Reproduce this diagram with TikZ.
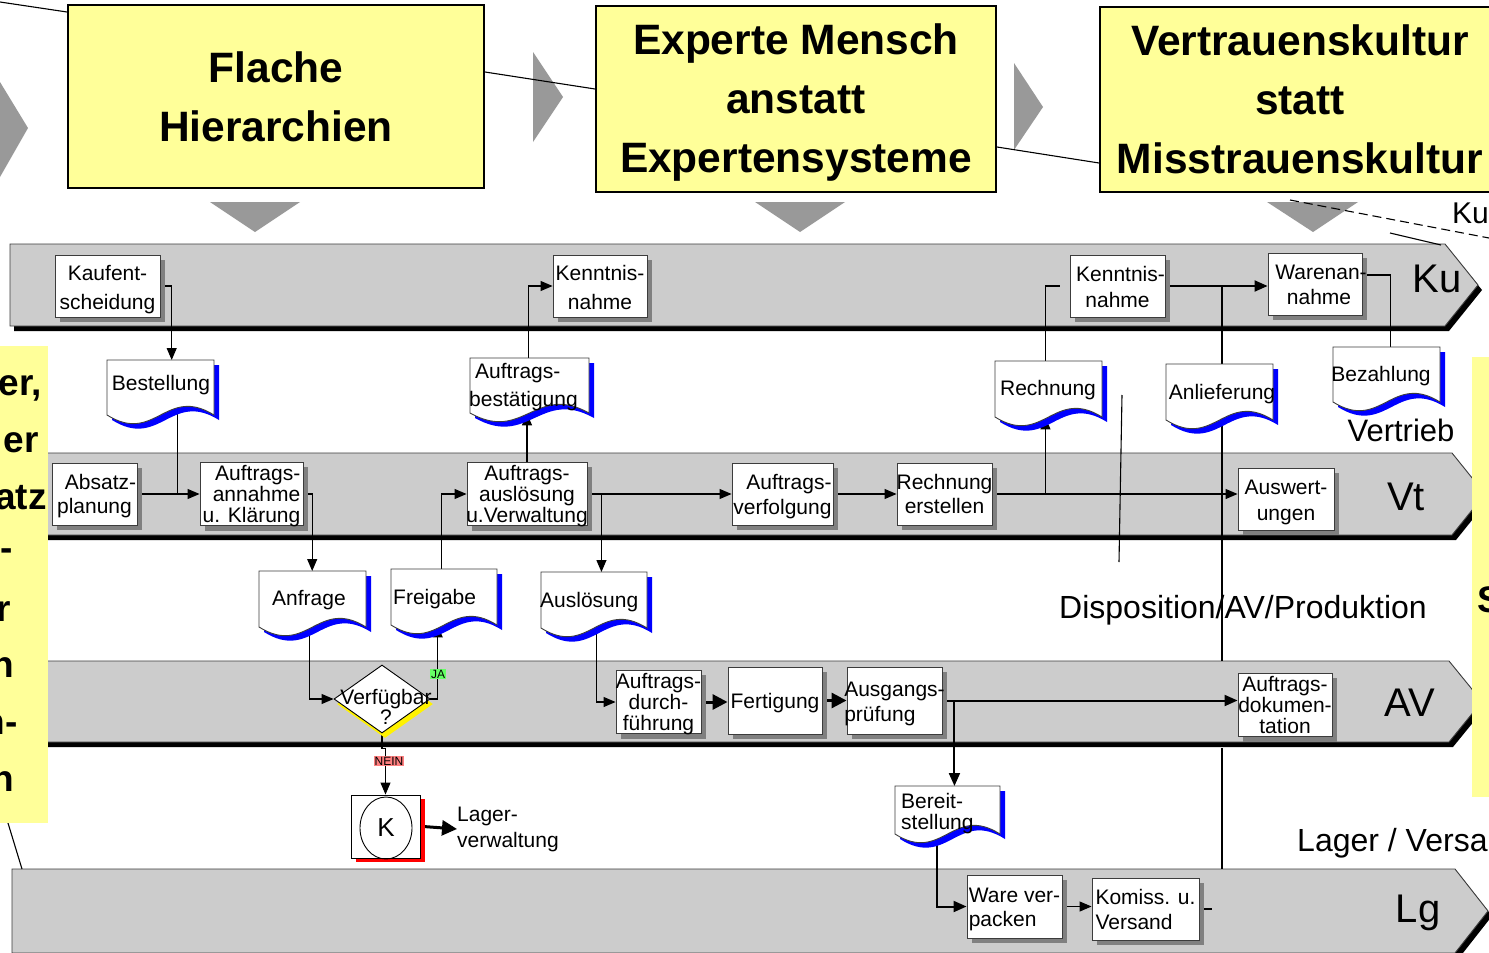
\documentclass[tikz,border=0pt]{standalone}
\usepackage{fontspec}
\setmainfont{Liberation Sans}
\usetikzlibrary{arrows.meta,shapes.geometric,shadows,calc}
\pgfdeclarelayer{lanes}
\pgfdeclarelayer{conn}
\pgfsetlayers{lanes,conn,main}

\definecolor{boxyellow}{RGB}{255,255,153}
\definecolor{lanegray}{RGB}{204,204,204}
\definecolor{chevgray}{RGB}{153,153,153}
\definecolor{shadegray}{RGB}{128,128,128}
\definecolor{docblue}{RGB}{0,0,255}
\definecolor{jagreen}{RGB}{102,255,102}
\definecolor{neinred}{RGB}{255,128,128}
\definecolor{edgegray}{RGB}{60,60,60}
\definecolor{kred}{RGB}{255,0,0}

\newcommand\fs[2]{\fontsize{#1}{#2}\selectfont}
% centred multi-line label that does not widen its box (set a little low)
\newcommand\ztab[4]{\makebox[0pt]{\raisebox{-3pt}[\height][\depth]{\fs{#2}{#3}\begin{tabular}{@{}#1@{}}#4\end{tabular}}}}

% swim lane with black drop shadow: left, top, right, bottom, tip x
\newcommand\lane[5]{%
  \fill[black] ({#1+4},{#2+5}) -- ({#3+4},{#2+5}) -- ({#5+4},{(#2+#4)/2+5})
     -- ({#3+4},{#4+5}) -- ({#1+4},{#4+5}) -- cycle;
  \filldraw[fill=lanegray, draw=edgegray, line width=0.9pt] (#1,#2) -- (#3,#2)
     -- (#5,{(#2+#4)/2}) -- (#3,#4) -- (#1,#4) -- cycle;}

% document symbol with wavy lower edge and blue shadow: name, left, top, width, height
\newcommand\docshape[5]{%
  \fill[docblue] ({#2+5},{#3+5}) -- ({#2+#4+5},{#3+5}) -- ({#2+#4+5},{#3+#5+5})
     .. controls ({#2+0.55*#4+5},{#3+#5-25}) and ({#2+0.45*#4+5},{#3+#5+35}) .. ({#2+5},{#3+#5+5}) -- cycle;
  \filldraw[fill=white, draw=edgegray, line width=0.9pt] (#2,#3) -- ({#2+#4},#3) -- ({#2+#4},{#3+#5})
     .. controls ({#2+0.55*#4},{#3+#5-30}) and ({#2+0.45*#4},{#3+#5+30}) .. (#2,{#3+#5}) -- cycle;
  \node[inner sep=0pt, minimum width=#4pt, minimum height=#5pt, anchor=north west] (#1) at (#2,#3) {};}

\begin{document}
\begin{tikzpicture}[x=1pt,y=-1pt,
  topbox/.style={draw=black, line width=2pt, fill=boxyellow, align=center,
    font=\bfseries\fs{42.5}{59}},
  proc/.style={draw=edgegray, line width=0.9pt, fill=white, inner sep=0pt,
    general shadow={fill=shadegray, shadow xshift=5pt, shadow yshift=-5pt}},
  doctext/.style={inner sep=0pt, font=\fs{21}{28}, align=center},
  lanelabel/.style={inner sep=0pt, font=\fs{40}{40}},
  arealabel/.style={inner sep=0pt, font=\fs{32}{32}},
  sidetext/.style={inner sep=0pt, anchor=east, font=\bfseries\fs{37}{37}},
  conn/.style={draw=black, line width=1.1pt},
  flow/.style={conn, -{Triangle[length=12pt,width=10pt]}},
  heavy/.style={draw=black, line width=2pt},
  heavyflow/.style={heavy, -{Triangle[length=13pt,width=11pt]}},
  bigflow/.style={draw=black, line width=3pt, -{Triangle[length=15pt,width=15pt]}},
  tag/.style={inner sep=1pt, font=\fs{12}{12}}
]
\useasboundingbox (0,0) rectangle (1489,953);

% ---------- background: lanes, chevrons ----------
\begin{pgfonlayer}{lanes}
  \fill[white] (0,0) rectangle (1489,953);
  \lane{10}{244}{1445}{326}{1478}
  \lane{-10}{453}{1452}{535}{1485}
  \lane{-10}{661}{1449}{742}{1482}
  \lane{12}{869}{1455}{953}{1488}
  % gray chevrons between the principles
  \fill[chevgray] (0,82) -- (28,128) -- (0,177) -- cycle;
  \fill[chevgray] (533,52) -- (563,97) -- (533,142) -- cycle;
  \fill[chevgray] (1014,63) -- (1043,107) -- (1014,150) -- cycle;
  % downward pointers
  \fill[chevgray] (210,202) -- (300,202) -- (255,232) -- cycle;
  \fill[chevgray] (755,202) -- (845,202) -- (800,232) -- cycle;
  \fill[chevgray] (1267,202) -- (1358,202) -- (1313,232) -- cycle;
\end{pgfonlayer}

% ---------- principles ----------
\node[topbox, minimum width=416pt, minimum height=183pt] (b1) at (276,96.5) {Flache\\Hierarchien};
\node[topbox, minimum width=400pt, minimum height=186pt] (b2) at (796,99) {\rule{0pt}{37pt}Experte Mensch\\anstatt\\Expertensysteme};
\node[topbox, minimum width=400pt, minimum height=185pt] (b3) at (1300,99.5) {Vertrauenskultur\\statt\\Misstrauenskultur};

% ---------- side panels ----------
\fill[boxyellow] (-10,346) rectangle (48,823);
\fill[boxyellow] (1472,357) rectangle (1500,797);
\node[sidetext] (s1) at (42,388) {er,};
\node[sidetext] (s2) at (39,443) {er};
\node[sidetext] (s3) at (47,498) {atz};
\node[sidetext] (s4) at (13,555) {-};
\node[sidetext] (s5) at (11,612) {r};
\node[sidetext] (s6) at (14,668) {n};
\node[sidetext] (s7) at (18,725) {n-};
\node[sidetext] (s8) at (14,782) {n};
\node[inner sep=0pt, anchor=west, font=\bfseries\fs{37}{37}] (s9) at (1477,600) {S};

% ---------- lane and area labels ----------
\node[lanelabel] (lku) at (1437,279) {Ku};
\node[lanelabel] (lvt) at (1406,497) {Vt};
\node[lanelabel] (lav) at (1410,703) {AV};
\node[lanelabel] (llg) at (1418,913) {Lg};
\node[arealabel, font=\fs{31}{31}] (avt) at (1401,430) {Vertrieb};
\node[arealabel] (adisp) at (1243,610) {Disposition/AV/Produktion};
\node[arealabel, anchor=west] (alag) at (1297,843) {Lager / Versa};
\node[arealabel, font=\fs{30}{30}, anchor=west] (aku) at (1452,213) {Ku};

% ---------- process steps ----------
\node[proc, minimum width=105pt, minimum height=62pt] (kauf) at (107.5,286) {\ztab{c}{21}{29}{Kaufent-\\scheidung}};
\node[proc, minimum width=94pt, minimum height=62pt] (kenn1) at (600,286) {\ztab{c}{21}{29}{Kenntnis-\\nahme}};
\node[proc, minimum width=95pt, minimum height=62pt] (kenn2) at (1117.5,286) {\ztab{c}{21}{26}{\hspace*{6pt}Kenntnis-\\nahme}};
\node[proc, minimum width=94pt, minimum height=62pt] (waren) at (1315,284) {\ztab{c}{21}{25}{\hspace*{12pt}Warenan-\\\hspace*{8pt}nahme}};

\node[proc, minimum width=85pt, minimum height=62pt] (absatz) at (94.5,494) {\ztab{c}{21}{24}{\hspace*{12pt}Absatz-\\planung}};
\node[proc, minimum width=103pt, minimum height=62pt] (annahme) at (251.5,494) {\ztab{r}{21}{20}{Auftrags-\\annahme\\u. Klärung}};
\node[proc, minimum width=120pt, minimum height=62pt] (ausl) at (527,494) {\ztab{c}{21}{20}{Auftrags-\\auslösung\\u.Verwaltung}};
\node[proc, minimum width=101pt, minimum height=62pt] (verf) at (782.5,494) {\ztab{r}{21}{25}{Auftrags-\\verfolgung}};
\node[proc, minimum width=95pt, minimum height=62pt] (rerst) at (944.5,494) {\ztab{c}{21}{24}{Rechnung\\erstellen}};
\node[proc, minimum width=96pt, minimum height=62pt] (ausw) at (1286,499) {\ztab{c}{21}{26}{Auswert-\\ungen}};

\node[proc, minimum width=85pt, minimum height=62pt] (durch) at (658.5,702) {\ztab{c}{21}{20}{Auftrags-\\durch-\\führung}};
\node[proc, minimum width=94pt, minimum height=67pt] (fert) at (775,700.5) {\ztab{c}{21}{25}{Fertigung}};
\node[proc, minimum width=95pt, minimum height=67pt] (ausg) at (894.5,700.5) {\ztab{l}{21}{25}{Ausgangs-\\prüfung}};
\node[proc, minimum width=94pt, minimum height=62pt] (doku) at (1285,705) {\ztab{c}{21}{20}{Auftrags-\\dokumen-\\tation}};

\node[proc, minimum width=95pt, minimum height=63pt] (ware) at (1014.5,906.5) {\ztab{l}{21}{24}{Ware ver-\\packen}};
\node[proc, minimum width=107pt, minimum height=62pt] (komiss) at (1145.5,909) {\ztab{l}{21}{25}{Komiss. u.\\Versand}};

% decision and connector
\node[diamond, draw=black, line width=0.9pt, fill=white, inner sep=0pt,
  minimum width=96pt, minimum height=68pt,
  general shadow={fill=yellow, shadow xshift=3pt, shadow yshift=-5pt}] (vdia) at (382,699) {};
\node[doctext, font=\fs{21}{19}] (vdia-t) at (386,707) {Verfügbar\\?};
\node[draw=black, line width=0.9pt, fill=white, inner sep=0pt, minimum width=69pt, minimum height=63pt,
  general shadow={fill=kred, shadow xshift=5pt, shadow yshift=-4pt}] (kbox) at (385.5,826.5) {};
\node[draw=black, line width=0.9pt, ellipse, inner sep=0pt, minimum width=52pt, minimum height=62pt,
  font=\fs{26}{26}] (kcirc) at (386,828) {K};
\node[doctext, font=\fs{21}{26}, align=left, anchor=west] (lagerv) at (457,829) {Lager-\\verwaltung};

% ---------- documents ----------
\docshape{best}{107}{360}{107}{55}
\docshape{bestae}{470}{358}{119}{55}
\docshape{rechdoc}{995}{361}{107}{56}
\docshape{anlief}{1166}{364}{107}{56}
\docshape{bezahl}{1333}{347}{107}{55}
\docshape{anfrage}{259}{571}{107}{56}
\docshape{freigabe}{391}{569}{106}{56}
\docshape{auslo}{541}{572}{106}{56}
\docshape{bereit}{895}{786}{105}{48}

\node[doctext] (best-t) at (161,385) {Bestellung};
\node[doctext, align=left, anchor=west] (bestae-t) at (469,387) {\hspace*{6pt}Auftrags-\\bestätigung};
\node[doctext] (rechdoc-t) at (1048,390) {Rechnung};
\node[doctext] (anlief-t) at (1222,394) {Anlieferung};
\node[doctext] (bezahl-t) at (1381,376) {Bezahlung};
\node[doctext] (anfrage-t) at (309,600) {Anfrage};
\node[doctext, anchor=west] (freigabe-t) at (393,599) {Freigabe};
\node[doctext, anchor=west] (auslo-t) at (540,602) {Auslösung};
\node[doctext, font=\fs{21}{21}, align=left, anchor=west] (bereit-t) at (901,814) {Bereit-\\stellung};

% ---------- free ends ----------
\coordinate (tl) at (0,2);
\coordinate (ds1) at (1290,200);
\coordinate (ds2) at (1489,238);
\coordinate (sl1) at (1390,233);
\coordinate (sl2) at (1441,245);
\coordinate (d1) at (1122,395);
\coordinate (d2) at (1119,562);
\coordinate (yb1) at (8,823);
\coordinate (yb2) at (22,869);
\coordinate (avtop) at (0,661);
\coordinate (avbot) at (0,748);
\coordinate (lgtop) at (0,869);

% ---------- connectors ----------
\begin{pgfonlayer}{conn}
  % lines between the principles
  \draw[conn] (tl) -- ([yshift=-8pt]b1.north west);
  \draw[conn] ([yshift=24.5pt]b1.east) -- ([yshift=10pt]b2.west);
  \draw[conn] ([yshift=-48pt]b2.east) -- ([yshift=-63.5pt]b3.west);
  \draw[conn, dash pattern=on 9pt off 5pt] (ds1) -- (ds2);
  \draw[conn] (sl1) -- (sl2);
  \draw[conn] (yb1) -- (yb2);
  \draw[conn] (d1) -- (d2);

  % customer / sales
  \draw[flow] (kauf.east) -| ([xshift=11pt]best.north);
  \draw[flow] (absatz.east) -- (annahme.west);
  \draw[conn] ([xshift=16.5pt]best.center) |- ([xshift=-20pt]annahme.west);
  \draw[flow] (annahme.east) -| ([xshift=-0.5pt]anfrage.north);
  \draw[flow] ([xshift=-3.5pt]anfrage.center) |- (vdia.west);
  \draw[flow] (vdia.east) -| ([xshift=-6.5pt]freigabe.south);
  \draw[flow] (vdia.south) -- ++(0,15) -| (kbox.north);
  \draw[flow] ([xshift=-3pt]freigabe.center) |- (ausl.west);
  \draw[flow] (ausl.north) -- (ausl.north |- bestae.south);
  \draw[flow] ([xshift=-1.5pt]bestae.center) |- (kenn1.west);
  \draw[flow] (ausl.east) -- (verf.west);
  \draw[flow] ([xshift=14pt]ausl.east) -- ([xshift=14pt]ausl.east |- auslo.north);
  \draw[flow] ([xshift=2pt]auslo.center) |- (durch.west);
  \draw[bigflow] (durch.east) -- (durch.east -| fert.west);
  \draw[bigflow] (fert.east) -- (ausg.west);
  \draw[heavyflow] (ausg.east) -- (ausg.east -| doku.west);
  \draw[heavyflow] ([xshift=12pt]ausg.east) -- ([xshift=12pt]ausg.east |- bereit.north);
  \draw[heavyflow] ([xshift=-10.5pt]bereit.center) |- (ware.west);
  \draw[flow] (ware.east) -- (ware.east -| komiss.west);
  \draw[conn] (komiss.east) -- ++(13,0);
  \draw[bigflow] ([xshift=3pt]kbox.east) -- (lagerv.west);
  \draw[flow] (verf.east) -- (rerst.west);
  \draw[flow] (rerst.east) -- (rerst.east -| ausw.west);
  \draw[flow] ([xshift=53pt]rerst.east) -- ([xshift=53pt]rerst.east |- rechdoc.south);
  \draw[conn] ([xshift=-3.5pt]rechdoc.center) |- ([xshift=-10pt]kenn2.west);
  \draw[heavyflow] (kenn2.east) -- (kenn2.east -| waren.west);
  \draw[conn] ([yshift=9pt]waren.east) -| ([xshift=4pt]bezahl.north);
  % delivery line through the lanes
  \draw[heavy] ([xshift=2.5pt]anlief.north) -- ([xshift=2.5pt]anlief.north |- kenn2.east);
  \draw[heavy] ([xshift=2.5pt]anlief.center) -- ([xshift=2.5pt]anlief.center |- avtop);
  \draw[heavy] ([xshift=2.5pt]anlief.center |- avbot) -- ([xshift=2.5pt]anlief.center |- lgtop);
\end{pgfonlayer}

% decision tags
\node[tag, fill=jagreen] (ja) at (438,674) {JA};
\node[tag, fill=neinred] (nein) at (389,761) {NEIN};
\end{tikzpicture}
\end{document}
